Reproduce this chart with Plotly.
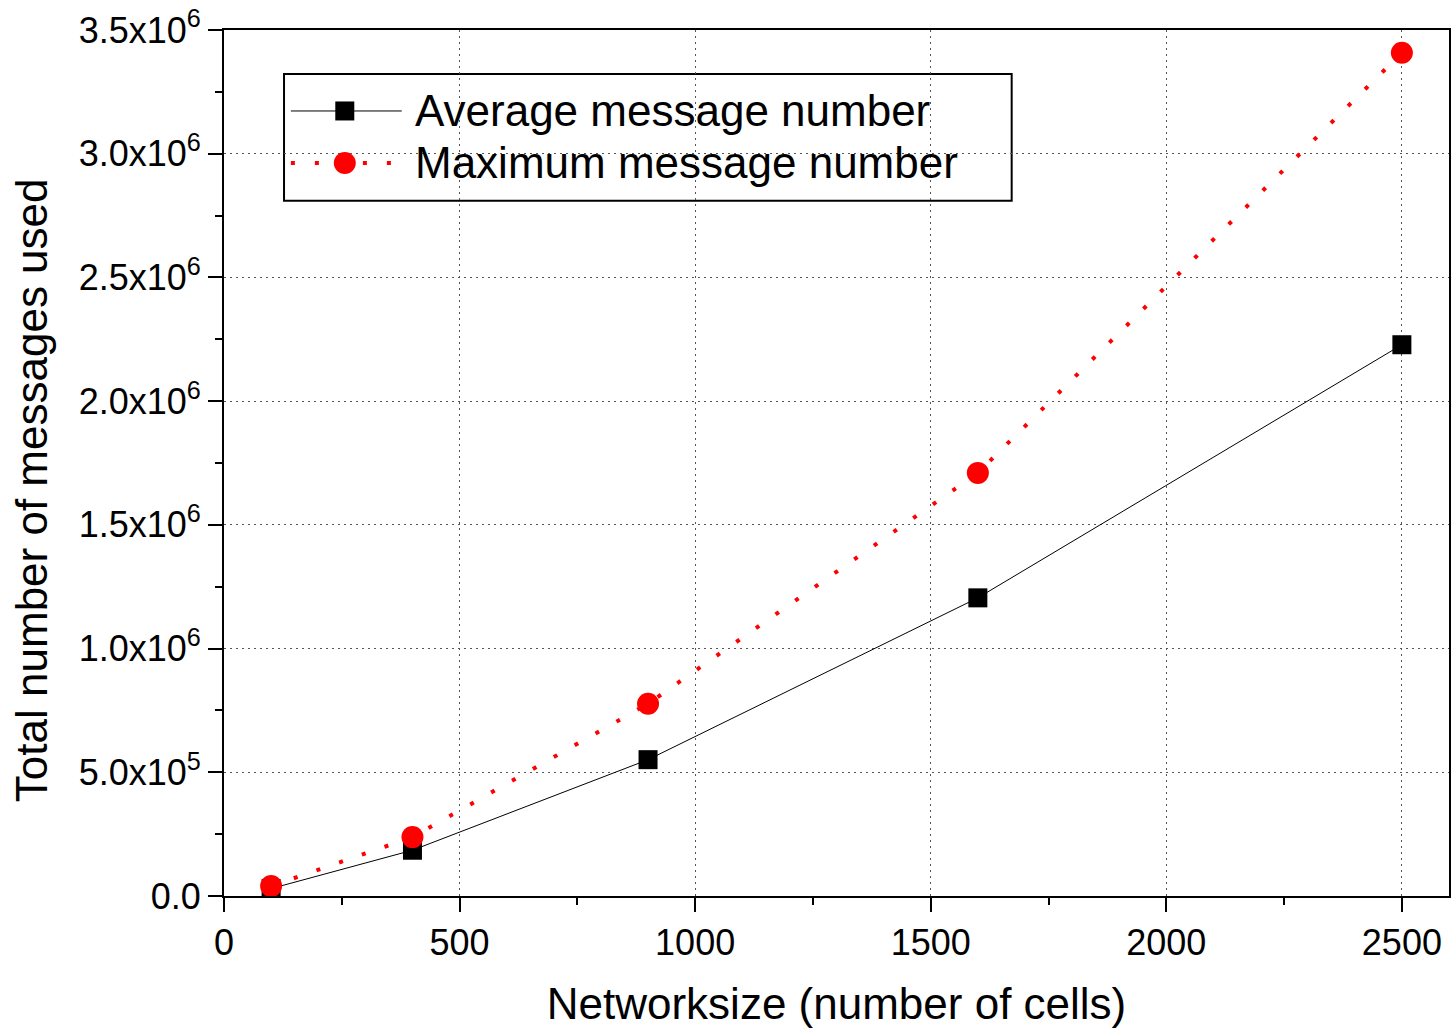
import plotly.graph_objects as go

network_size = [100, 400, 900, 1600, 2500]
avg_messages = [0.03e6, 0.185e6, 0.551e6, 1.205e6, 2.228e6]
max_messages = [0.04e6, 0.238e6, 0.777e6, 1.71e6, 3.408e6]

series_names = ["Average message number", "Maximum message number"]

x_tick_vals = [0, 500, 1000, 1500, 2000, 2500]
y_tick_vals = [0, 0.5e6, 1.0e6, 1.5e6, 2.0e6, 2.5e6, 3.0e6, 3.5e6]
y_tick_text = ["0.0", "5.0x10<sup>5</sup>", "1.0x10<sup>6</sup>", "1.5x10<sup>6</sup>",
               "2.0x10<sup>6</sup>", "2.5x10<sup>6</sup>", "3.0x10<sup>6</sup>", "3.5x10<sup>6</sup>"]

x_title = "Networksize (number of cells)"
y_title = "Total number of messages used"

FONT = "Liberation Sans, Arial, sans-serif"
RED_DASH = "4px,20px"

fig = go.Figure()
fig.add_trace(go.Scatter(
    x=network_size, y=avg_messages, name=series_names[0],
    mode="lines+markers", showlegend=False,
    line=dict(color="black", width=1),
    marker=dict(symbol="square", size=19, color="black"),
))
fig.add_trace(go.Scatter(
    x=network_size, y=max_messages, name=series_names[1],
    mode="lines+markers", showlegend=False,
    line=dict(color="red", width=4, dash=RED_DASH),
    marker=dict(symbol="circle", size=22, color="red"),
))

# ---- custom legend (paper-aligned overlay axes) ----
box = dict(x0=0.049, x1=0.643, y0=0.8027, y1=0.9492)
row_y = [0.9065, 0.8465]
seg_x = [0.0546, 0.1451]
mark_x = 0.0986
text_x = 0.1540

fig.add_shape(type="rect", xref="paper", yref="paper", layer="between",
              x0=box["x0"], x1=box["x1"], y0=box["y0"], y1=box["y1"],
              line=dict(color="black", width=2), fillcolor="white")
fig.add_shape(type="line", xref="paper", yref="paper", layer="between",
              x0=seg_x[0], x1=seg_x[1], y0=row_y[0], y1=row_y[0],
              line=dict(color="black", width=1))
fig.add_shape(type="line", xref="paper", yref="paper", layer="between",
              x0=seg_x[0], x1=seg_x[1], y0=row_y[1], y1=row_y[1],
              line=dict(color="red", width=4, dash=RED_DASH))
fig.add_trace(go.Scatter(
    x=[mark_x], y=[row_y[0]], xaxis="x2", yaxis="y2", mode="markers",
    showlegend=False, hoverinfo="skip",
    marker=dict(symbol="square", size=19, color="black")))
fig.add_trace(go.Scatter(
    x=[mark_x], y=[row_y[1]], xaxis="x2", yaxis="y2", mode="markers",
    showlegend=False, hoverinfo="skip",
    marker=dict(symbol="circle", size=22, color="red")))
for name, ry in zip(series_names, row_y):
    fig.add_annotation(x=text_x, y=ry, xref="paper", yref="paper",
                       text=name, showarrow=False, xanchor="left", yanchor="middle",
                       font=dict(family=FONT, size=44, color="black"))

# y-axis title (placed like the reference, slightly below plot centre)
fig.add_annotation(x=-0.1565, y=0.469, xref="paper", yref="paper",
                   text=y_title, showarrow=False, textangle=-90,
                   xanchor="center", yanchor="middle",
                   font=dict(family=FONT, size=44, color="black"))

axis_common = dict(
    showline=True, linecolor="black", linewidth=2, mirror=True,
    ticks="outside", ticklen=14, tickwidth=2, tickcolor="black",
    showgrid=True, gridcolor="#555555", griddash="2px,4px", gridwidth=1,
    zeroline=False,
    tickfont=dict(family=FONT, size=36, color="black"),
)

fig.update_xaxes(
    range=[0, 2600], tickvals=x_tick_vals,
    minor=dict(dtick=250, ticks="outside", ticklen=7, tickwidth=2, tickcolor="black", showgrid=False),
    title=dict(text=x_title, font=dict(family=FONT, size=44, color="black"), standoff=26),
    **axis_common,
)
fig.update_yaxes(
    range=[0, 3.5e6], tickvals=y_tick_vals, ticktext=y_tick_text,
    minor=dict(dtick=0.25e6, ticks="outside", ticklen=7, tickwidth=2, tickcolor="black", showgrid=False),
    **axis_common,
)

fig.update_layout(
    width=1452, height=1028,
    margin=dict(l=224, r=1, t=30, b=132),
    plot_bgcolor="white", paper_bgcolor="white",
    font=dict(family=FONT, color="black"),
    showlegend=False,
    xaxis2=dict(overlaying="x", range=[0, 1], visible=False, fixedrange=True),
    yaxis2=dict(overlaying="y", range=[0, 1], visible=False, fixedrange=True),
)

fig.write_html("out.html")
